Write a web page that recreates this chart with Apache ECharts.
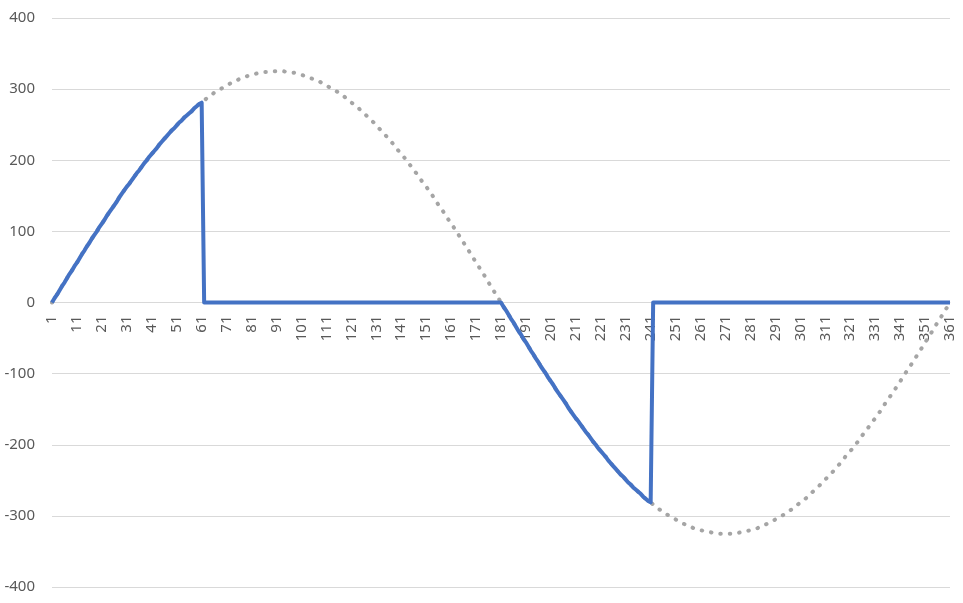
<!DOCTYPE html>
<html>
<head>
<meta charset="utf-8">
<script src="https://cdn.jsdelivr.net/npm/echarts@6/dist/echarts.min.js"></script>
<style>
html,body{margin:0;padding:0;background:#fff;}
#chart{width:963px;height:603px;}
</style>
</head>
<body>
<div id="chart"></div>
<script>
// Category labels: 1 .. 361 (degrees + 1)
const categories = Array.from({length: 361}, (_, i) => String(i + 1));

// Full sine reference (gray dotted) (peak ~325)
const sineValues = [
  0,6,11,17,23,28,34,40,45,51,
  56,62,68,73,79,84,90,95,100,106,
  111,116,122,127,132,137,142,148,153,158,
  163,167,172,177,182,186,191,196,200,205,
  209,213,217,222,226,230,234,238,242,245,
  249,253,256,260,263,266,269,273,276,279,
  281,284,287,290,292,295,297,299,301,303,
  305,307,309,311,312,314,315,317,318,319,
  320,321,322,323,323,324,324,325,325,325,
  325,325,325,325,324,324,323,323,322,321,
  320,319,318,317,315,314,312,311,309,307,
  305,303,301,299,297,295,292,290,287,284,
  281,279,276,273,269,266,263,260,256,253,
  249,245,242,238,234,230,226,222,217,213,
  209,205,200,196,191,186,182,177,172,167,
  163,158,153,148,142,137,132,127,122,116,
  111,106,100,95,90,84,79,73,68,62,
  56,51,45,40,34,28,23,17,11,6,
  0,
  -6,-11,-17,-23,-28,-34,-40,-45,-51,-56,
  -62,-68,-73,-79,-84,-90,-95,-100,-106,-111,
  -116,-122,-127,-132,-137,-142,-148,-153,-158,-163,
  -167,-172,-177,-182,-186,-191,-196,-200,-205,-209,
  -213,-217,-222,-226,-230,-234,-238,-242,-245,-249,
  -253,-256,-260,-263,-266,-269,-273,-276,-279,-281,
  -284,-287,-290,-292,-295,-297,-299,-301,-303,-305,
  -307,-309,-311,-312,-314,-315,-317,-318,-319,-320,
  -321,-322,-323,-323,-324,-324,-325,-325,-325,-325,
  -325,-325,-325,-324,-324,-323,-323,-322,-321,-320,
  -319,-318,-317,-315,-314,-312,-311,-309,-307,-305,
  -303,-301,-299,-297,-295,-292,-290,-287,-284,-281,
  -279,-276,-273,-269,-266,-263,-260,-256,-253,-249,
  -245,-242,-238,-234,-230,-226,-222,-217,-213,-209,
  -205,-200,-196,-191,-186,-182,-177,-172,-167,-163,
  -158,-153,-148,-142,-137,-132,-127,-122,-116,-111,
  -106,-100,-95,-90,-84,-79,-73,-68,-62,-56,
  -51,-45,-40,-34,-28,-23,-17,-11,-6,0
];

// Chopped waveform (blue solid)
const choppedValues = [
  0,6,11,17,23,28,34,40,45,51,
  56,62,68,73,79,84,90,95,100,106,
  111,116,122,127,132,137,142,148,153,158,
  163,167,172,177,182,186,191,196,200,205,
  209,213,217,222,226,230,234,238,242,245,
  249,253,256,260,263,266,269,273,276,279,
  281,
  0,0,0,0,0,0,0,0,0,0,0,0,0,0,0,0,0,0,0,0,
  0,0,0,0,0,0,0,0,0,0,0,0,0,0,0,0,0,0,0,0,
  0,0,0,0,0,0,0,0,0,0,0,0,0,0,0,0,0,0,0,0,
  0,0,0,0,0,0,0,0,0,0,0,0,0,0,0,0,0,0,0,0,
  0,0,0,0,0,0,0,0,0,0,0,0,0,0,0,0,0,0,0,0,
  0,0,0,0,0,0,0,0,0,0,0,0,0,0,0,0,0,0,0,0,
  -6,-11,-17,-23,-28,-34,-40,-45,-51,-56,
  -62,-68,-73,-79,-84,-90,-95,-100,-106,-111,
  -116,-122,-127,-132,-137,-142,-148,-153,-158,-163,
  -167,-172,-177,-182,-186,-191,-196,-200,-205,-209,
  -213,-217,-222,-226,-230,-234,-238,-242,-245,-249,
  -253,-256,-260,-263,-266,-269,-273,-276,-279,-281,
  0,0,0,0,0,0,0,0,0,0,0,0,0,0,0,0,0,0,0,0,
  0,0,0,0,0,0,0,0,0,0,0,0,0,0,0,0,0,0,0,0,
  0,0,0,0,0,0,0,0,0,0,0,0,0,0,0,0,0,0,0,0,
  0,0,0,0,0,0,0,0,0,0,0,0,0,0,0,0,0,0,0,0,
  0,0,0,0,0,0,0,0,0,0,0,0,0,0,0,0,0,0,0,0,
  0,0,0,0,0,0,0,0,0,0,0,0,0,0,0,0,0,0,0,0
];

const yMin = -400, yMax = 400, yStep = 100;
const gridTop = 18, gridBottom = 16, chartH = 603;
// place the category axis on the zero line (centre of the symmetric value range)
const zeroOffset = -((chartH - gridTop - gridBottom) * (0 - yMin) / (yMax - yMin));

const chart = echarts.init(document.getElementById('chart'), null, {renderer: 'canvas'});
chart.setOption({
  animation: false,
  backgroundColor: '#ffffff',
  textStyle: {fontFamily: 'Noto Sans, sans-serif', color: '#595959'},
  grid: {left: 52, right: 13, top: gridTop, bottom: gridBottom, containLabel: false, outerBoundsMode: 'none'},
  xAxis: {
    type: 'category',
    data: categories,
    boundaryGap: false,
    position: 'bottom',
    offset: zeroOffset,
    axisLine: {show: true, onZero: false, lineStyle: {color: '#d9d9d9', width: 1}},
    axisTick: {show: false},
    splitLine: {show: false},
    axisLabel: {
      interval: 9,
      rotate: 90,
      margin: 13,
      fontSize: 15,
      color: '#595959',
      fontFamily: 'Noto Sans, sans-serif'
    }
  },
  yAxis: {
    type: 'value',
    min: yMin,
    max: yMax,
    interval: yStep,
    axisLine: {show: false},
    axisTick: {show: false},
    splitLine: {lineStyle: {color: '#d9d9d9', width: 1}},
    axisLabel: {
      margin: 17,
      fontSize: 15,
      color: '#595959',
      fontFamily: 'Noto Sans, sans-serif'
    }
  },
  series: [
    {
      name: 'Sine',
      type: 'line',
      data: sineValues,
      showSymbol: false,
      symbol: 'none',
      lineStyle: {color: '#A5A5A5', width: 4, type: [0.5, 9], cap: 'round'},
      z: 2
    },
    {
      name: 'Chopped',
      type: 'line',
      data: choppedValues,
      showSymbol: false,
      symbol: 'none',
      lineStyle: {color: '#4472C4', width: 4, join: 'round'},
      z: 3
    }
  ]
});
</script>
</body>
</html>
